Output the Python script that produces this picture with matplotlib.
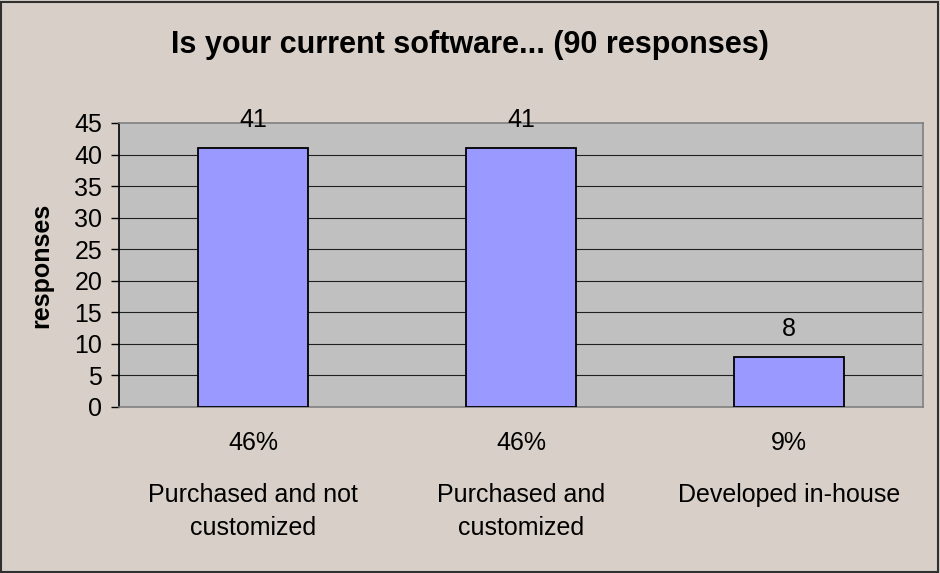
import matplotlib.pyplot as plt
from matplotlib.patches import Rectangle
from matplotlib.transforms import blended_transform_factory

categories = ['Purchased and not\ncustomized', 'Purchased and\ncustomized', 'Developed in-house']
responses = [41, 41, 8]
y_ticks = [0, 5, 10, 15, 20, 25, 30, 35, 40, 45]

total = sum(responses)
percents = [f'{round(v / total * 100)}%' for v in responses]

plt.rcParams['font.family'] = ['Liberation Sans', 'DejaVu Sans']

fig = plt.figure(figsize=(9.4, 5.73), dpi=100, facecolor='#D8D0C8')
ax = fig.add_axes([119 / 940, 1 - 407 / 573, 804 / 940, 284 / 573])
ax.set_facecolor('#C0C0C0')

x = list(range(len(categories)))
ax.bar(x, responses, width=0.41, color='#9999FF', edgecolor='black', linewidth=1.3, zorder=3)

ax.set_xlim(-0.5, len(categories) - 0.5)
ax.set_ylim(0, 45)
ax.set_yticks(y_ticks)
ax.tick_params(axis='y', labelsize=18, length=6, width=1, pad=6, direction='out', color='black')
ax.set_xticks([])

# horizontal gridlines
for t in y_ticks[1:-1]:
    ax.axhline(t, color='#202020', linewidth=0.8, zorder=1)

for side in ['top', 'right', 'bottom']:
    ax.spines[side].set_color('#808080')
    ax.spines[side].set_linewidth(1.2)
ax.spines['left'].set_color('black')
ax.spines['left'].set_linewidth(1.2)

# value labels above bars
for xi, v in zip(x, responses):
    ax.annotate(str(v), (xi, v), xytext=(0, 20), textcoords='offset points',
                ha='center', va='center', fontsize=18)

# percent and category labels under the axis
trans = blended_transform_factory(ax.transData, ax.transAxes)
for xi, p, c in zip(x, percents, categories):
    ax.annotate(p, (xi, 0), xycoords=trans, xytext=(0, -26), textcoords='offset points',
                ha='center', va='center', fontsize=18)
    ax.annotate(c, (xi, 0), xycoords=trans, xytext=(0, -55), textcoords='offset points',
                ha='center', va='top', fontsize=18, linespacing=1.45)

ax.set_ylabel('responses', fontsize=18, fontweight='bold')
ax.yaxis.set_label_coords(-(119 - 53) / 804, 0.5)

fig.text(0.5, 1 - 45 / 573, 'Is your current software... (90 responses)',
         ha='center', va='center', fontsize=22, fontweight='bold')

fig.patches.append(Rectangle((0.001, 0.002), 0.997, 0.995, transform=fig.transFigure,
                             fill=False, edgecolor='#303030', linewidth=1.5))

fig.savefig('out.png', dpi=100, facecolor=fig.get_facecolor())
